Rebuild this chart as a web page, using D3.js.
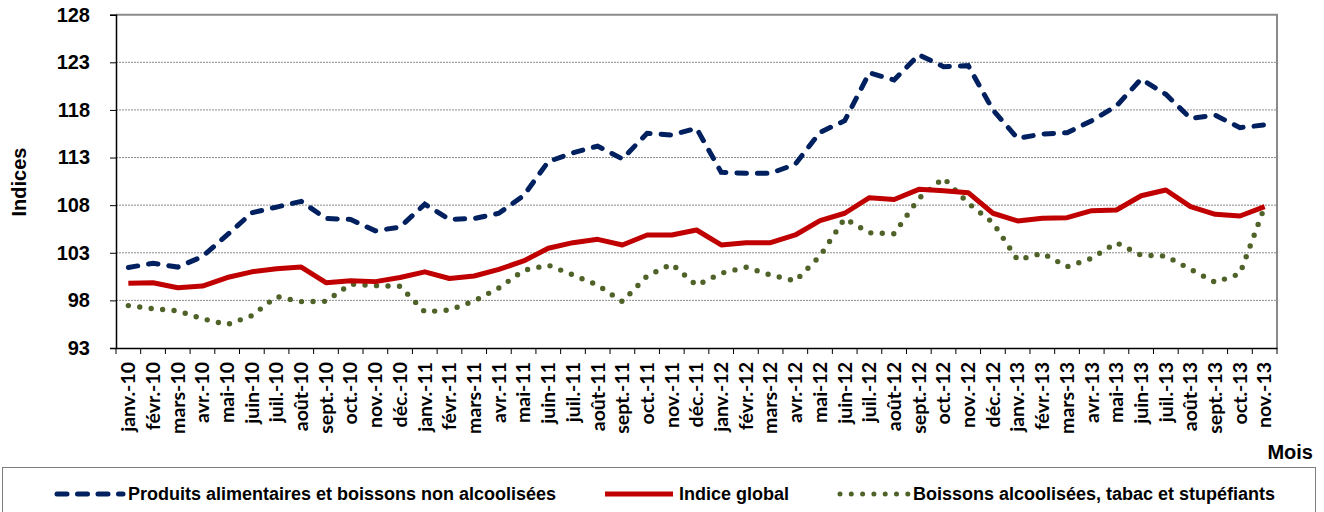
<!DOCTYPE html>
<html><head><meta charset="utf-8">
<script src="https://cdn.jsdelivr.net/npm/d3@7"></script>
<style>body{margin:0;background:#fff}svg{display:block}</style>
</head><body>
<svg id="c" width="1324" height="512"></svg>
<script>
const months = ["janv.-10","févr.-10","mars-10","avr.-10","mai-10","juin-10","juil.-10","août-10","sept.-10","oct.-10","nov.-10","déc.-10",
"janv.-11","févr.-11","mars-11","avr.-11","mai-11","juin-11","juil.-11","août-11","sept.-11","oct.-11","nov.-11","déc.-11",
"janv.-12","févr.-12","mars-12","avr.-12","mai-12","juin-12","juil.-12","août-12","sept.-12","oct.-12","nov.-12","déc.-12",
"janv.-13","févr.-13","mars-13","avr.-13","mai-13","juin-13","juil.-13","août-13","sept.-13","oct.-13","nov.-13"];
const alimentaires = [101.45,101.9,101.5,102.6,104.87,107.2,107.8,108.4,106.6,106.5,105.3,105.7,108.1,106.5,106.6,107.15,109.0,112.57,113.5,114.2,112.85,115.55,115.37,116.07,111.45,111.35,111.35,112.3,115.65,116.87,121.9,121.14,123.8,122.54,122.65,117.99,115.02,115.47,115.61,116.87,118.41,121.25,119.64,117.12,117.44,116.14,116.42];
const indiceGlobal = [99.8,99.85,99.33,99.5,100.4,101.0,101.33,101.5,99.86,100.07,99.97,100.4,101.0,100.3,100.56,101.26,102.14,103.47,104.06,104.41,103.82,104.87,104.87,105.39,103.82,104.06,104.06,104.87,106.37,107.15,108.79,108.6,109.66,109.52,109.31,107.15,106.34,106.62,106.69,107.42,107.49,108.99,109.59,107.84,107.04,106.86,107.84];
const boissons = [97.45,97.13,96.9,96.08,95.45,96.4,98.4,97.87,97.9,99.72,99.55,99.48,96.8,96.99,97.94,99.3,101.15,101.7,100.67,99.6,97.87,100.56,101.82,99.58,100.85,101.48,100.67,100.04,102.66,106.6,105.1,105.0,108.7,110.85,108.2,106.16,102.25,102.95,101.54,102.42,104.06,102.74,102.66,101.26,99.9,100.8,107.84];
const yTicks = [93,98,103,108,113,118,123,128];
const seriesNames = ["Produits alimentaires et boissons non alcoolisées","Indice global","Boissons alcoolisées, tabac et stupéfiants"];

const svg = d3.select("#c");
const L=116, R=1277, T=14.7, B=348;
const ARIAL = "Liberation Sans, Arial, sans-serif";
const x = d3.scaleBand().domain(months).range([L,R]).paddingInner(0).paddingOuter(0);
const y = d3.scaleLinear().domain([93,128]).range([B,T]);

// gridlines
svg.append("g").selectAll("line").data(yTicks.filter(v=>v>93&&v<128)).join("line")
  .attr("x1",L).attr("x2",R).attr("y1",d=>y(d)).attr("y2",d=>y(d))
  .attr("stroke","#8c8c8c").attr("stroke-width",1).attr("stroke-dasharray","2 1");

// top & right border
svg.append("path").attr("d",`M${L},${T}H${R}V${B}`).attr("fill","none").attr("stroke","#8a8a8a").attr("stroke-width",2);

// y axis
const ya = svg.append("g").attr("transform",`translate(${L},0)`)
  .call(d3.axisLeft(y).tickValues(yTicks).tickSize(6).tickPadding(20).tickFormat(d3.format("d")));
ya.select(".domain").attr("stroke","#000").attr("stroke-width",1.5);
ya.selectAll(".tick line").attr("stroke","#000");
ya.selectAll("text").attr("font-family",ARIAL).attr("font-weight","bold").attr("font-size",20).attr("fill","#000");

// x axis
const xa = svg.append("g").attr("transform",`translate(0,${B})`)
  .call(d3.axisBottom(x).tickSize(0).tickPadding(0));
xa.select(".domain").attr("stroke","#000").attr("stroke-width",1.5);
xa.selectAll(".tick text")
  .attr("font-family","Lato, sans-serif").attr("font-weight","bold").attr("font-size",19.5).attr("fill","#000")
  .attr("transform","rotate(-90)").attr("text-anchor","end").attr("dy","0.35em").attr("x",-14).attr("y",0);
// boundary ticks
const bounds = months.map(m=>x(m)).concat([R]);
svg.append("g").selectAll("line").data(bounds).join("line")
  .attr("x1",d=>d).attr("x2",d=>d).attr("y1",B).attr("y2",B+6).attr("stroke","#000").attr("stroke-width",1);

const cx = m => x(m)+x.bandwidth()/2;
const line = arr => d3.line().x((d,i)=>cx(months[i])).y(d=>y(d))(arr);

svg.append("path").attr("d",line(boissons)).attr("fill","none").attr("stroke","#4f6228")
  .attr("stroke-width",5.4).attr("stroke-linecap","round").attr("stroke-dasharray","0 11.5");
svg.append("path").attr("d",line(indiceGlobal)).attr("fill","none").attr("stroke","#c00000")
  .attr("stroke-width",5).attr("stroke-linejoin","round");
svg.append("path").attr("d",line(alimentaires)).attr("fill","none").attr("stroke","#002060")
  .attr("stroke-width",5).attr("stroke-linecap","round").attr("stroke-dasharray","9.5 11");

// axis titles
svg.append("text").attr("transform","translate(26,182) rotate(-90)").attr("text-anchor","middle")
  .attr("font-family",ARIAL).attr("font-weight","bold").attr("font-size",20).text("Indices");
svg.append("text").attr("x",1313).attr("y",459).attr("text-anchor","end")
  .attr("font-family",ARIAL).attr("font-weight","bold").attr("font-size",20).text("Mois");

// legend
svg.append("rect").attr("x",2.5).attr("y",467.5).attr("width",1313).attr("height",60).attr("fill","none").attr("stroke","#7f7f7f").attr("stroke-width",1);
const leg = [
  {x1:57,x2:123,tx:128,color:"#002060",dash:"10 10.5",cap:"round"},
  {x1:605,x2:673,tx:679,color:"#c00000",dash:null,cap:"butt"},
  {x1:840,x2:908,tx:913,color:"#4f6228",dash:"0 11.3",cap:"round"}
];
const ly = 494;
leg.forEach((l,i)=>{
  const p = svg.append("line").attr("x1",l.x1).attr("x2",l.x2).attr("y1",ly).attr("y2",ly)
    .attr("stroke",l.color).attr("stroke-width",5).attr("stroke-linecap",l.cap);
  if(l.dash) p.attr("stroke-dasharray",l.dash);
  svg.append("text").attr("x",l.tx).attr("y",ly).attr("dy","0.35em")
    .attr("font-family",ARIAL).attr("font-weight","bold").attr("font-size",18).text(seriesNames[i]);
});
</script>
</body></html>
